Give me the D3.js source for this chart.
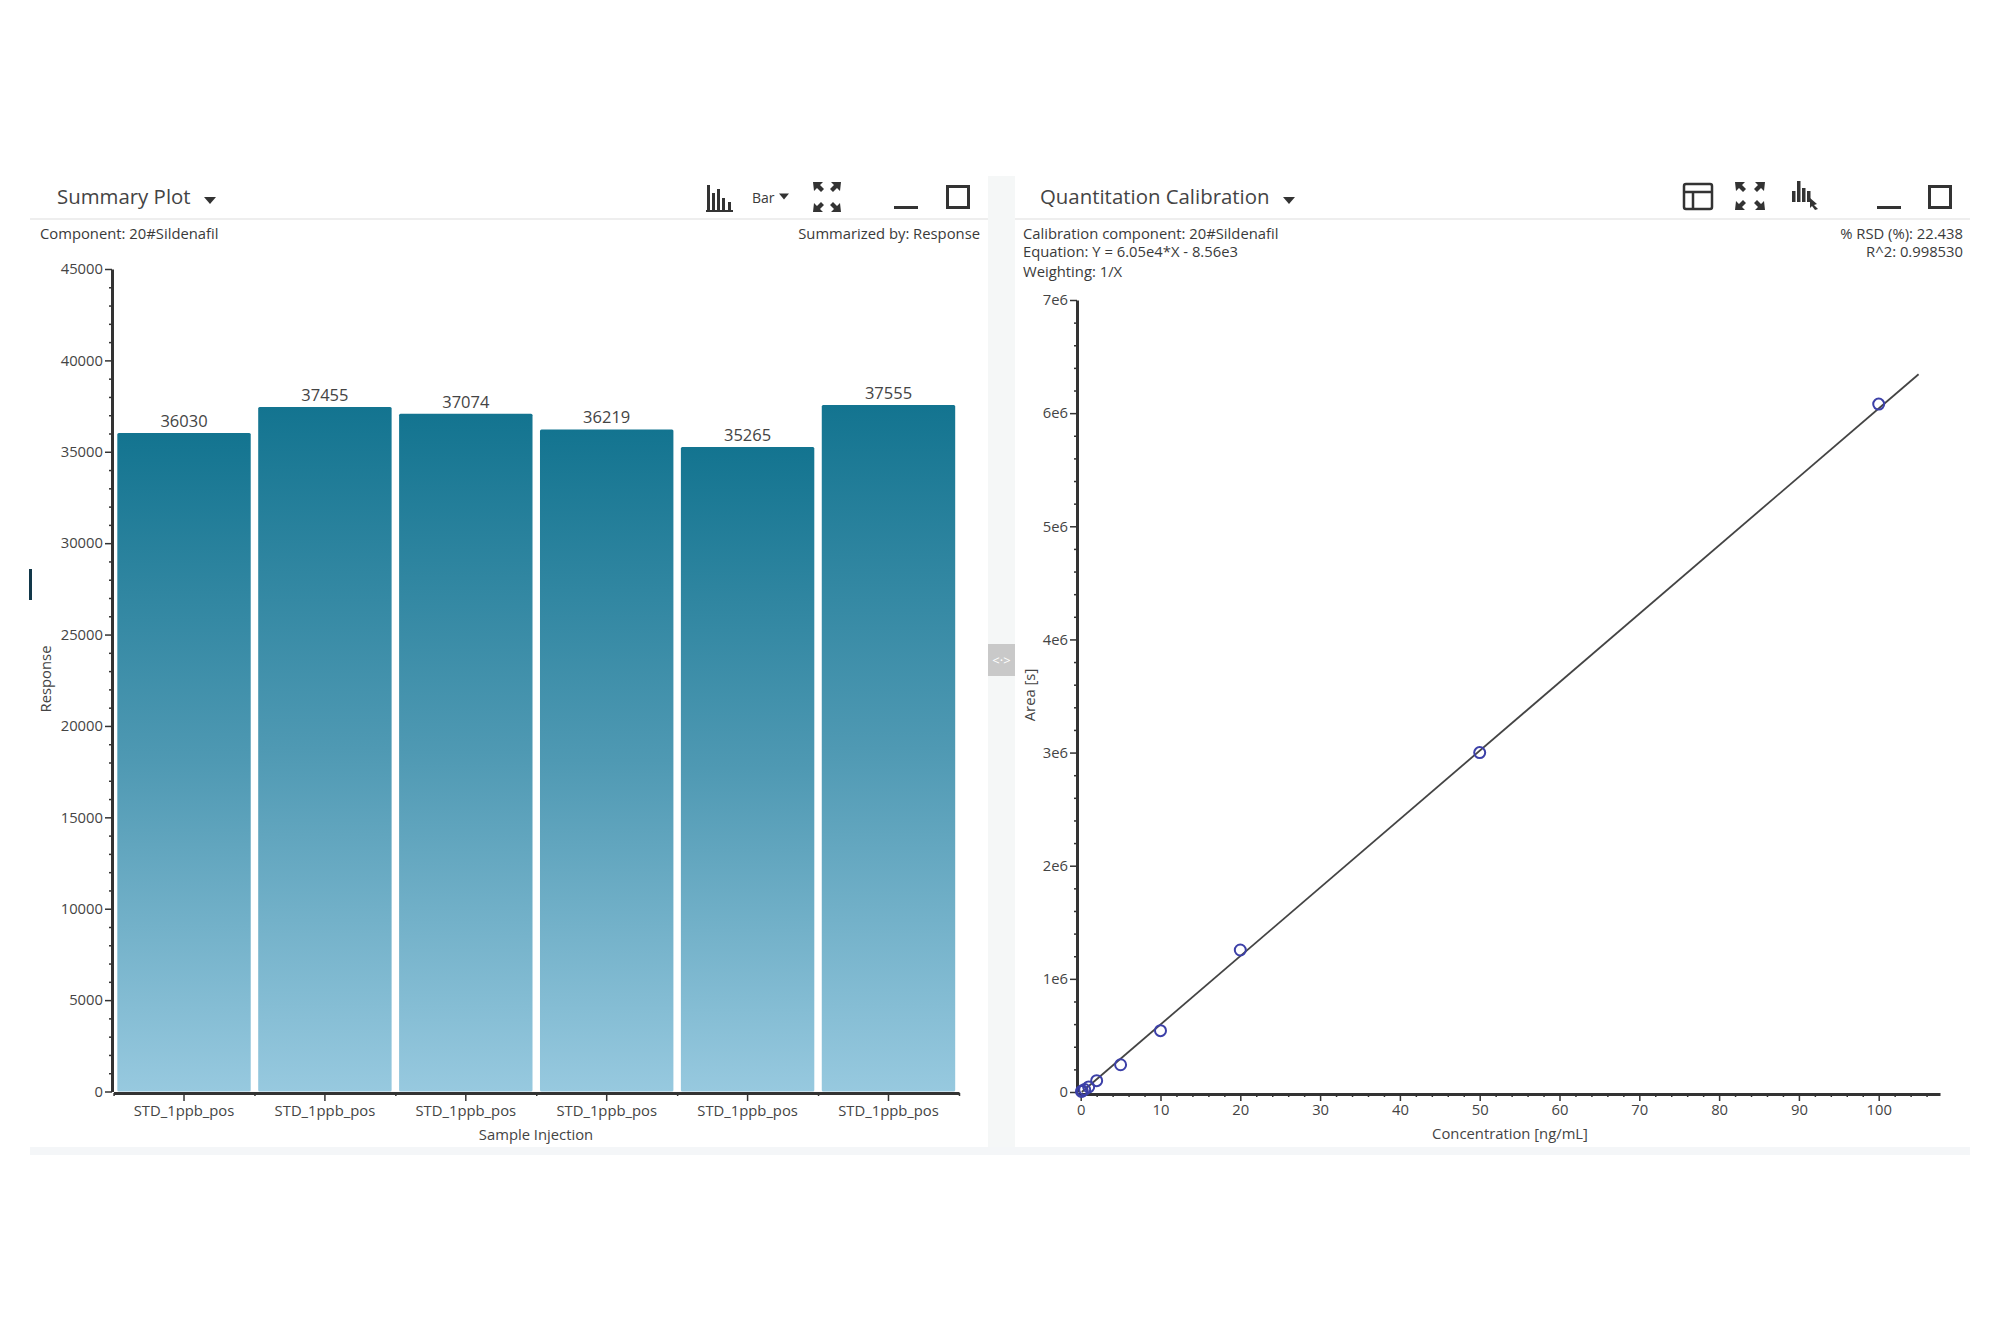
<!DOCTYPE html>
<html>
<head>
<meta charset="utf-8">
<script src="https://cdn.jsdelivr.net/npm/d3@7"></script>
<style>
  html, body { margin: 0; background: #fff; }
  svg { display: block; }
  text { font-family: "Open Sans", sans-serif; fill: #3a3a3a; }
  .axis text { font-size: 14.8px; fill: #444; }
  .axis .domain { stroke: #333; stroke-width: 3; }
  .axis .tick line { stroke: #333; stroke-width: 1.5; }
  .info { font-size: 14.8px; }
  .title { font-size: 20.4px; fill: #444; }
  .axis-title { font-size: 14.8px; fill: #444; }
  .bar-value { font-size: 16.5px; fill: #444; }
  .icon { fill: none; stroke: #333; }
  .icon-fill { fill: #333; stroke: none; }
</style>
</head>
<body>
<svg id="chart" width="2000" height="1333"></svg>
<script>
// summary plot
const injections = ['inj1', 'inj2', 'inj3', 'inj4', 'inj5', 'inj6'];
const injectionLabel = 'STD_1ppb_pos';
const responses = [36030, 37455, 37074, 36219, 35265, 37555];
const responseTicks = [0, 5000, 10000, 15000, 20000, 25000, 30000, 35000, 40000, 45000];

// calibration plot
const concentrations = [0.1, 0.2, 0.5, 1, 2, 5, 10, 20, 50, 100];
const areas = [5000, 10000, 22000, 45000, 100000, 241000, 542000, 1255000, 3000000, 6080000];
const fitX = [0.14, 105];
const fitY = [0, 6344000];
const areaTicks = [0, 1e6, 2e6, 3e6, 4e6, 5e6, 6e6, 7e6];
const areaLabels = ['0', '1e6', '2e6', '3e6', '4e6', '5e6', '6e6', '7e6'];
const concTicks = [0, 10, 20, 30, 40, 50, 60, 70, 80, 90, 100];

const svg = d3.select('#chart');

const defs = svg.append('defs');
const grad = defs.append('linearGradient').attr('id', 'barFill')
  .attr('x1', 0).attr('y1', 0).attr('x2', 0).attr('y2', 1);
grad.append('stop').attr('offset', '0%').attr('stop-color', '#137490');
grad.append('stop').attr('offset', '50%').attr('stop-color', '#4f99b3');
grad.append('stop').attr('offset', '100%').attr('stop-color', '#97c9df');

// panel chrome
svg.append('rect').attr('x', 988).attr('y', 176).attr('width', 27).attr('height', 972).attr('fill', '#f5f7f7');
svg.append('rect').attr('x', 30).attr('y', 1147).attr('width', 1940).attr('height', 8).attr('fill', '#f4f6f8');
svg.append('rect').attr('x', 30).attr('y', 218).attr('width', 958).attr('height', 2).attr('fill', '#eeeeee');
svg.append('rect').attr('x', 1015).attr('y', 218).attr('width', 955).attr('height', 2).attr('fill', '#eeeeee');
svg.append('rect').attr('x', 29).attr('y', 569).attr('width', 3).attr('height', 31).attr('fill', '#12384a');
svg.append('rect').attr('x', 988).attr('y', 644).attr('width', 27).attr('height', 32).attr('fill', '#c9c9c9');
svg.append('text').attr('x', 1001.5).attr('y', 660).attr('text-anchor', 'middle')
  .attr('dominant-baseline', 'central').style('font-size', '13px').style('fill', '#fff').text('<·>');

// headers
function info(x, y, str, anchor) {
  svg.append('text').attr('class', 'info').attr('x', x).attr('y', y)
    .attr('text-anchor', anchor || 'start').attr('dominant-baseline', 'central').text(str);
}
function caret(x, y, w) {
  svg.append('path').attr('class', 'icon-fill')
    .attr('d', `M${x - w},${y - w / 2}L${x + w},${y - w / 2}L${x},${y + w / 2 + 1}Z`);
}
svg.append('text').attr('class', 'title').attr('x', 57).attr('y', 196).attr('dominant-baseline', 'central').text('Summary Plot');
caret(210, 200, 6);
svg.append('text').attr('class', 'title').attr('x', 1040).attr('y', 196).attr('dominant-baseline', 'central').text('Quantitation Calibration');
caret(1289, 200, 6);

info(40, 232.5, 'Component: 20#Sildenafil');
info(980, 232.5, 'Summarized by: Response', 'end');
info(1023, 232.5, 'Calibration component: 20#Sildenafil');
info(1023, 251, 'Equation: Y = 6.05e4*X - 8.56e3');
info(1023, 270.5, 'Weighting: 1/X');
info(1963, 232.5, '% RSD (%): 22.438', 'end');
info(1963, 251, 'R^2: 0.998530', 'end');

// toolbar icons
function fullscreenIcon(x, y, w, h) {
  const g = svg.append('g').attr('transform', `translate(${x},${y})`);
  const s = 10;
  [[0, 0, 1, 1], [w, 0, -1, 1], [0, h, 1, -1], [w, h, -1, -1]].forEach(([cx, cy, dx, dy]) => {
    g.append('path').attr('class', 'icon-fill')
      .attr('d', `M${cx},${cy}h${dx * s}l${-dx * 3},${dy * 3}l${dx * 4},${dy * 4}l${-dx * 3},${dy * 3}l${-dx * 4},${-dy * 4}l${-dx * 3},${dy * 3}Z`);
  });
}
function windowIcons(x1, x2) {
  svg.append('rect').attr('class', 'icon-fill').attr('x', x1).attr('y', 206).attr('width', 24).attr('height', 3);
  svg.append('rect').attr('class', 'icon').attr('x', x2 + 0.5).attr('y', 186.5).attr('width', 21).attr('height', 21).attr('stroke-width', 3);
}
[0, 5, 10, 15, 21].forEach((dx, i) => {
  const hs = [25, 17, 21, 12, 8];
  svg.append('rect').attr('class', 'icon-fill').attr('x', 707 + dx).attr('y', 210 - hs[i]).attr('width', 3).attr('height', hs[i]);
});
svg.append('rect').attr('class', 'icon-fill').attr('x', 706).attr('y', 210).attr('width', 27).attr('height', 2);
svg.append('text').attr('x', 752).attr('y', 197).attr('dominant-baseline', 'central').style('font-size', '14px').text('Bar');
caret(784, 196, 5);
fullscreenIcon(813, 182, 28, 30);
windowIcons(894, 947);

svg.append('rect').attr('class', 'icon').attr('x', 1684).attr('y', 184).attr('width', 28).attr('height', 25).attr('rx', 2).attr('stroke-width', 2.5);
svg.append('path').attr('class', 'icon').attr('stroke-width', 2.5).attr('d', 'M1684,192H1712M1693,192V209');
fullscreenIcon(1735, 182, 30, 28);
[0, 5, 10, 15].forEach((dx, i) => {
  const hs = [11, 21, 14, 11];
  svg.append('rect').attr('class', 'icon-fill').attr('x', 1792 + dx).attr('y', 202 - hs[i]).attr('width', 3.5).attr('height', hs[i]);
});
svg.append('path').attr('class', 'icon-fill').attr('d', 'M1810,198L1817,204L1814,205L1818,209L1815,210L1812,206L1810,208Z');
windowIcons(1877, 1929);

// left chart
const x1 = d3.scaleBand().domain(injections).range([113.5, 959]).paddingInner(0.053).paddingOuter(0.027);
const y1 = d3.scaleLinear().domain([0, 45000]).range([1091.5, 269]);

const gL = svg.append('g');
gL.selectAll('rect.bar').data(responses).join('rect')
  .attr('class', 'bar')
  .attr('x', (d, i) => x1(injections[i]))
  .attr('y', (d) => y1(d))
  .attr('width', x1.bandwidth())
  .attr('height', (d) => y1(0) - y1(d))
  .attr('rx', 1.5)
  .attr('fill', 'url(#barFill)');
gL.selectAll('text.bar-value').data(responses).join('text')
  .attr('class', 'bar-value')
  .attr('x', (d, i) => x1(injections[i]) + x1.bandwidth() / 2)
  .attr('y', (d) => y1(d) - 12.5)
  .attr('text-anchor', 'middle')
  .attr('dominant-baseline', 'central')
  .text((d) => d);

const yMinor1 = d3.range(0, 45001, 1000).filter((v) => v % 5000 !== 0);
gL.append('g').attr('class', 'axis').attr('transform', 'translate(112,0)')
  .call(d3.axisLeft(y1).tickValues(yMinor1).tickSize(3).tickFormat('').tickSizeOuter(0))
  .call((g) => g.select('.domain').remove());
gL.append('g').attr('class', 'axis').attr('transform', 'translate(112,0)')
  .call(d3.axisLeft(y1).tickValues(responseTicks).tickSize(7).tickPadding(2).tickSizeOuter(0).tickFormat(d3.format('d')));

const bandEdges = injections.map((d) => x1(d) - x1.step() * x1.paddingInner() / 2).concat(959);
const xScaleEdges = d3.scaleLinear().domain([113.5, 959]).range([113.5, 959]);
gL.append('g').attr('class', 'axis').attr('transform', 'translate(0,1093)')
  .call(d3.axisBottom(xScaleEdges).tickValues(bandEdges).tickSize(3).tickFormat('').tickSizeOuter(0))
  .call((g) => g.select('.domain').remove());
gL.append('g').attr('class', 'axis').attr('transform', 'translate(0,1093)')
  .call(d3.axisBottom(x1).tickSize(8).tickPadding(4).tickSizeOuter(0).tickFormat(() => injectionLabel));

gL.append('text').attr('class', 'axis-title').attr('x', 536).attr('y', 1134)
  .attr('text-anchor', 'middle').attr('dominant-baseline', 'central').text('Sample Injection');
gL.append('text').attr('class', 'axis-title').attr('transform', 'translate(45,679) rotate(-90)')
  .attr('text-anchor', 'middle').attr('dominant-baseline', 'central').text('Response');

// right chart
const x2 = d3.scaleLinear().domain([0, 100]).range([1080.7, 1878.7]);
const y2 = d3.scaleLinear().domain([0, 7e6]).range([1092, 300]);

const gR = svg.append('g');
const xMinor2 = d3.range(0, 107, 2).filter((v) => v % 10 !== 0);
const yMinor2 = d3.range(0, 7000001, 200000).filter((v) => v % 1000000 !== 0);

gR.append('g').attr('class', 'axis').attr('transform', 'translate(1077,0)')
  .call(d3.axisLeft(y2).tickValues(yMinor2).tickSize(3).tickFormat('').tickSizeOuter(0))
  .call((g) => g.select('.domain').remove());
gR.append('g').attr('class', 'axis').attr('transform', 'translate(1077,0)')
  .call(d3.axisLeft(y2).tickValues(areaTicks).tickSize(7).tickPadding(2).tickSizeOuter(0)
    .tickFormat((d, i) => areaLabels[i]));

const xAxisScale = x2.copy().domain([x2.invert(1077), x2.invert(1940)]).range([1077, 1940]);
gR.append('g').attr('class', 'axis').attr('transform', 'translate(0,1094)')
  .call(d3.axisBottom(xAxisScale).tickValues(xMinor2).tickSize(3).tickFormat('').tickSizeOuter(0))
  .call((g) => g.select('.domain').remove());
gR.append('g').attr('class', 'axis').attr('transform', 'translate(0,1094)')
  .call(d3.axisBottom(xAxisScale).tickValues(concTicks).tickSize(7).tickPadding(3).tickSizeOuter(0).tickFormat((d) => d));

const fitLine = d3.line().x((d) => x2(d[0])).y((d) => y2(d[1]));
gR.append('path').datum(d3.zip(fitX, fitY))
  .attr('d', fitLine).attr('fill', 'none').attr('stroke', '#444').attr('stroke-width', 1.8);

gR.selectAll('circle.pt').data(d3.zip(concentrations, areas)).join('circle')
  .attr('class', 'pt')
  .attr('cx', (d) => x2(d[0]))
  .attr('cy', (d) => y2(d[1]))
  .attr('r', 5.5)
  .attr('fill', 'none')
  .attr('stroke', '#3c40a8')
  .attr('stroke-width', 2);

gR.append('text').attr('class', 'axis-title').attr('x', 1510).attr('y', 1133)
  .attr('text-anchor', 'middle').attr('dominant-baseline', 'central').text('Concentration [ng/mL]');
gR.append('text').attr('class', 'axis-title').attr('transform', 'translate(1029,695) rotate(-90)')
  .attr('text-anchor', 'middle').attr('dominant-baseline', 'central').text('Area [s]');
</script>
</body>
</html>
